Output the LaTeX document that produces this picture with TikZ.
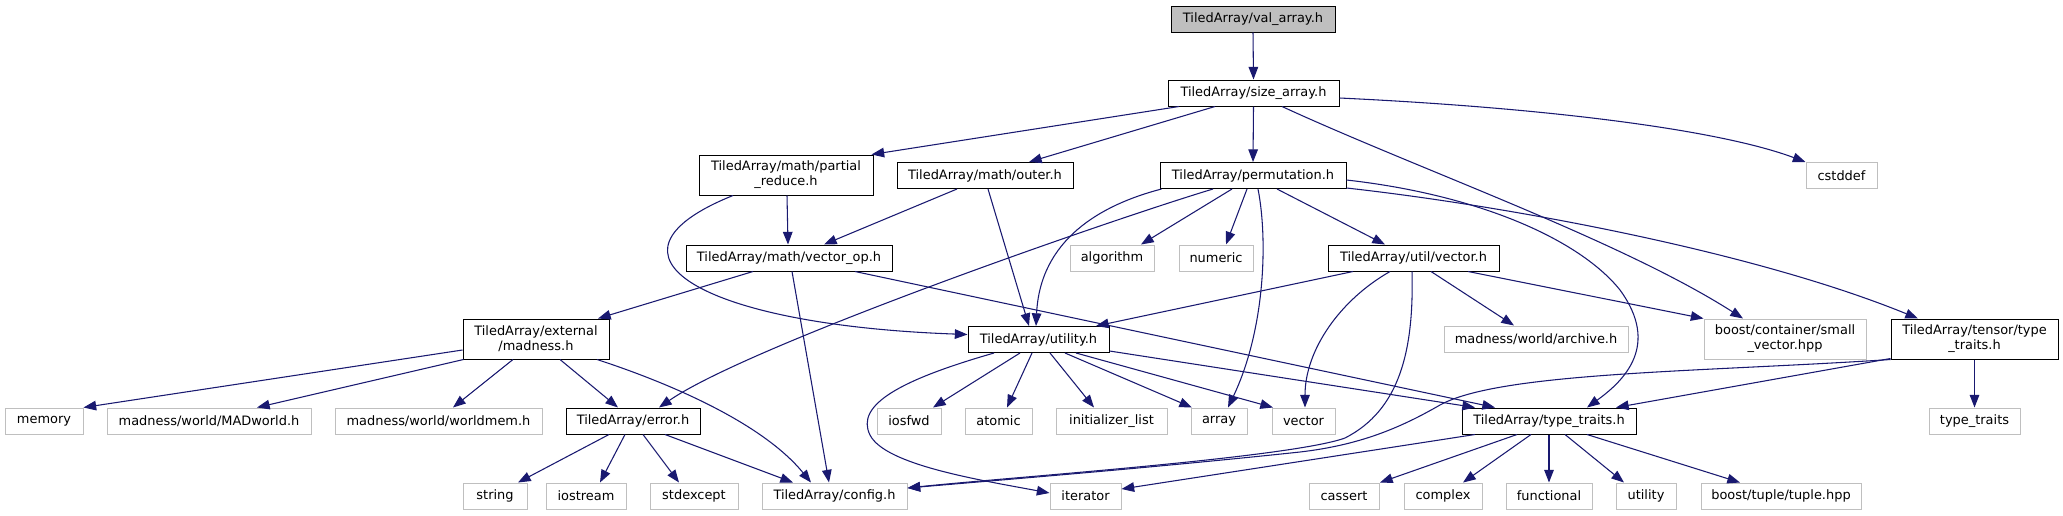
\documentclass[tikz,border=0pt]{standalone}
\usepackage{fontspec}
\setmainfont{DejaVu Sans}
\usetikzlibrary{arrows.meta,calc}
\definecolor{edgec}{HTML}{191970}
\definecolor{grayb}{HTML}{BFBFBF}
\tikzset{
  base/.style={draw, inner sep=0pt, font=\fontsize{9.7}{11.4}\selectfont, align=center, fill=white, line width=0.75pt},
  doc/.style={base, draw=black},
  ext/.style={base, draw=grayb},
  root/.style={base, draw=black, fill=grayb},
  wh/.style 2 args={minimum width=#1*0.75pt, minimum height=#2*0.75pt},
  conn/.style={draw=edgec, line width=0.8pt, -{Triangle[length=9.5pt,width=7.2pt]}}
}
\begin{document}
\begin{tikzpicture}[x=0.75pt,y=-0.75pt]
\useasboundingbox (0,0) rectangle (2063,515);
% rank 0-1
\node[root, wh={164}{26}] (va) at (1253,19) {TiledArray/val\_array.h};
\node[doc, wh={171}{26}] (sa) at (1253.5,93) {TiledArray/size\_array.h};
% rank 2
\node[doc, wh={174}{40}] (pr) at (786,175) {TiledArray/math/partial\\\_reduce.h};
\node[doc, wh={176}{26}] (ou) at (985,175.5) {TiledArray/math/outer.h};
\node[doc, wh={186}{26}] (pe) at (1253,175.5) {TiledArray/permutation.h};
\node[ext, wh={71}{26}] (cs) at (1841.5,175.5) {cstddef};
% rank 3
\node[doc, wh={206}{26}] (vo) at (789,258) {TiledArray/math/vector\_op.h};
\node[ext, wh={84}{26}] (al) at (1112,258) {algorithm};
\node[ext, wh={74}{26}] (nu) at (1216,258) {numeric};
\node[doc, wh={171}{26}] (uv) at (1413.5,258) {TiledArray/util/vector.h};
% rank 4
\node[doc, wh={146}{40}] (md) at (536,339) {TiledArray/external\\/madness.h};
\node[doc, wh={141}{26}] (ut) at (1038.5,339.5) {TiledArray/utility.h};
\node[ext, wh={184}{26}] (ar) at (1536,339) {madness/world/archive.h};
\node[ext, wh={162}{40}] (sv) at (1785,339) {boost/container/small\\\_vector.hpp};
\node[doc, wh={167}{40}] (tt) at (1974.5,339) {TiledArray/tensor/type\\\_traits.h};
% rank 5
\node[ext, wh={78}{26}] (mem) at (44,421) {memory};
\node[ext, wh={204}{26}] (mw) at (209,421) {madness/world/MADworld.h};
\node[ext, wh={207}{26}] (wm) at (438.5,421) {madness/world/worldmem.h};
\node[doc, wh={134}{26}] (er) at (633,421) {TiledArray/error.h};
\node[ext, wh={64}{26}] (iosf) at (909,421) {iosfwd};
\node[ext, wh={67}{26}] (at) at (998.5,421) {atomic};
\node[ext, wh={111}{26}] (il) at (1111.5,421) {initializer\_list};
\node[ext, wh={56}{26}] (arr) at (1219,421) {array};
\node[ext, wh={63}{26}] (vec) at (1303.5,421) {vector};
\node[doc, wh={174}{26}] (tyt) at (1549,421) {TiledArray/type\_traits.h};
\node[ext, wh={91}{26}] (stt) at (1974.5,421) {type\_traits};
% rank 6
\node[ext, wh={64}{26}] (str) at (495,496) {string};
\node[ext, wh={80}{26}] (ios) at (586,496) {iostream};
\node[ext, wh={88}{26}] (se) at (694,496) {stdexcept};
\node[ext, wh={145}{26}] (cfg) at (834.5,496) {TiledArray/config.h};
\node[ext, wh={71}{26}] (it) at (1085.5,496) {iterator};
\node[ext, wh={70}{26}] (ca) at (1344,496) {cassert};
\node[ext, wh={78}{26}] (co) at (1443,496) {complex};
\node[ext, wh={86}{26}] (fu) at (1549,496) {functional};
\node[ext, wh={60}{26}] (uti) at (1646,496) {utility};
\node[ext, wh={160}{26}] (bt) at (1781,496) {boost/tuple/tuple.hpp};
% connectors
\draw[conn] (va.south) -- (sa.north);
\draw[conn] ($(sa.south)+(-74.5,0)$) -- ($(pr.north east)+(-2,0)$);
\draw[conn] ($(sa.south)+(-38.5,0)$) -- ($(ou.north)+(44,0)$);
\draw[conn] (sa.south) -- (pe.north);
\draw[conn] ($(sa.south)+(28.5,0)$) .. controls (1420,170) and (1620,240) .. ($(sv.north)+(-42,0)$);
\draw[conn] ($(sa.east)+(0,5)$) .. controls (1550,108) and (1720,130) .. (cs.north west);
\draw[conn] ($(pr.south)+(1,0)$) -- ($(vo.north)+(-1,0)$);
\draw[conn] ($(pr.south)+(-53,0)$) .. controls (585,255) and (700,325) .. ($(ut.west)+(0,-5)$);
\draw[conn] ($(ou.south)+(-28,0)$) -- ($(vo.north)+(35,0)$);
\draw[conn] ($(ou.south)+(3,0)$) -- ($(ut.north)+(-9.5,0)$);
\draw[conn] ($(pe.south west)+(2,0)$) .. controls (1100,205) and (1040,240) .. ($(ut.north)+(-2.5,0)$);
\draw[conn] ($(pe.south)+(-40,0)$) .. controls (1110,220) and (750,345) .. ($(er.north)+(26,0)$);
\draw[conn] ($(pe.south)+(-21,0)$) -- ($(al.north)+(29,0)$);
\draw[conn] ($(pe.south)+(-6,0)$) -- ($(nu.north)+(10,0)$);
\draw[conn] ($(pe.south)+(5,0)$) .. controls (1268,240) and (1265,330) .. ($(arr.north)+(9,0)$);
\draw[conn] ($(pe.south)+(24,0)$) -- ($(uv.north)+(-28.5,0)$);
\draw[conn] ($(pe.east)+(0,4.5)$) .. controls (1480,195) and (1580,240) .. (1620,290) .. controls (1660,345) and (1625,380) .. ($(tyt.north)+(38,0)$);
\draw[conn] ($(pe.south east)+(0,-1)$) .. controls (1500,205) and (1750,250) .. ($(tt.north)+(-56.5,0)$);
\draw[conn] ($(vo.south)+(-36,0)$) -- ($(md.north)+(62,0)$);
\draw[conn] ($(vo.south)+(3,0)$) -- ($(cfg.north)+(-5.5,0)$);
\draw[conn] ($(vo.south)+(66,0)$) -- ($(tyt.north)+(-54,0)$);
\draw[conn] ($(md.west)+(0,11)$) -- (mem.north east);
\draw[conn] ($(md.south west)+(1,0)$) -- ($(mw.north)+(48,0)$);
\draw[conn] ($(md.south)+(-23,0)$) -- ($(wm.north)+(14.5,0)$);
\draw[conn] ($(md.south)+(24,0)$) -- ($(er.north)+(-15,0)$);
\draw[conn] ($(md.south)+(61,0)$) .. controls (660,380) and (760,420) .. ($(cfg.north)+(-23.5,0)$);
\draw[conn] ($(ut.south)+(-44.5,0)$) .. controls (900,380) and (855,405) .. (870,435) .. controls (885,465) and (980,480) .. ($(it.west)+(0,-3)$);
\draw[conn] ($(ut.south)+(-18.5,0)$) -- ($(iosf.north)+(24,0)$);
\draw[conn] ($(ut.south)+(-6.5,0)$) -- ($(at.north)+(8.5,0)$);
\draw[conn] ($(ut.south)+(11.5,0)$) -- ($(il.north)+(-17.5,0)$);
\draw[conn] ($(ut.south)+(26.5,0)$) -- ($(arr.north)+(-27,0)$);
\draw[conn] ($(ut.south)+(37.5,0)$) -- ($(vec.north)+(-30.5,0)$);
\draw[conn] ($(ut.south east)+(0,-2)$) -- ($(tyt.north)+(-74,0)$);
\draw[conn] ($(uv.south)+(-60.5,0)$) -- ($(ut.north)+(57.5,0)$);
\draw[conn] ($(uv.south)+(-23.5,0)$) .. controls (1340,300) and (1305,350) .. ($(vec.north)+(1.5,0)$);
\draw[conn] ($(uv.south)+(-1.5,0)$) .. controls (1414,350) and (1400,410) .. (1345,438) .. controls (1290,458) and (1000,478) .. ($(cfg.east)+(0,-8)$);
\draw[conn] ($(uv.south)+(17.5,0)$) -- ($(ar.north)+(-22,0)$);
\draw[conn] ($(uv.south)+(54.5,0)$) -- (sv.north west);
\draw[conn] (tt.south) -- (stt.north);
\draw[conn] ($(tt.south west)+(0,-1)$) -- ($(tyt.north)+(67,0)$);
\draw[conn] (tt.south west) .. controls (1700,372) and (1500,372) .. (1440,405) .. controls (1400,428) and (1360,445) .. (1300,452) .. controls (1150,468) and (1000,480) .. ($(cfg.east)+(0,-8)$);
\draw[conn] ($(tyt.south)+(-32,0)$) -- ($(ca.north)+(36,0)$);
\draw[conn] ($(tyt.south)+(-18,0)$) -- ($(co.north)+(20,0)$);
\draw[conn] (tyt.south) -- (fu.north);
\draw[conn] ($(tyt.south)+(16,0)$) -- ($(uti.north)+(-22,0)$);
\draw[conn] ($(tyt.south)+(38,0)$) -- ($(bt.north)+(-41,0)$);
\draw[conn] ($(tyt.south)+(-74,0)$) -- ($(it.east)+(0,-7)$);
\draw[conn] ($(er.south)+(-24,0)$) -- ($(str.north)+(23,0)$);
\draw[conn] ($(er.south)+(-8,0)$) -- ($(ios.north)+(14,0)$);
\draw[conn] ($(er.south)+(10,0)$) -- ($(se.north)+(-15,0)$);
\draw[conn] ($(er.south)+(32,0)$) -- ($(cfg.north)+(-41.5,0)$);
\end{tikzpicture}
\end{document}
